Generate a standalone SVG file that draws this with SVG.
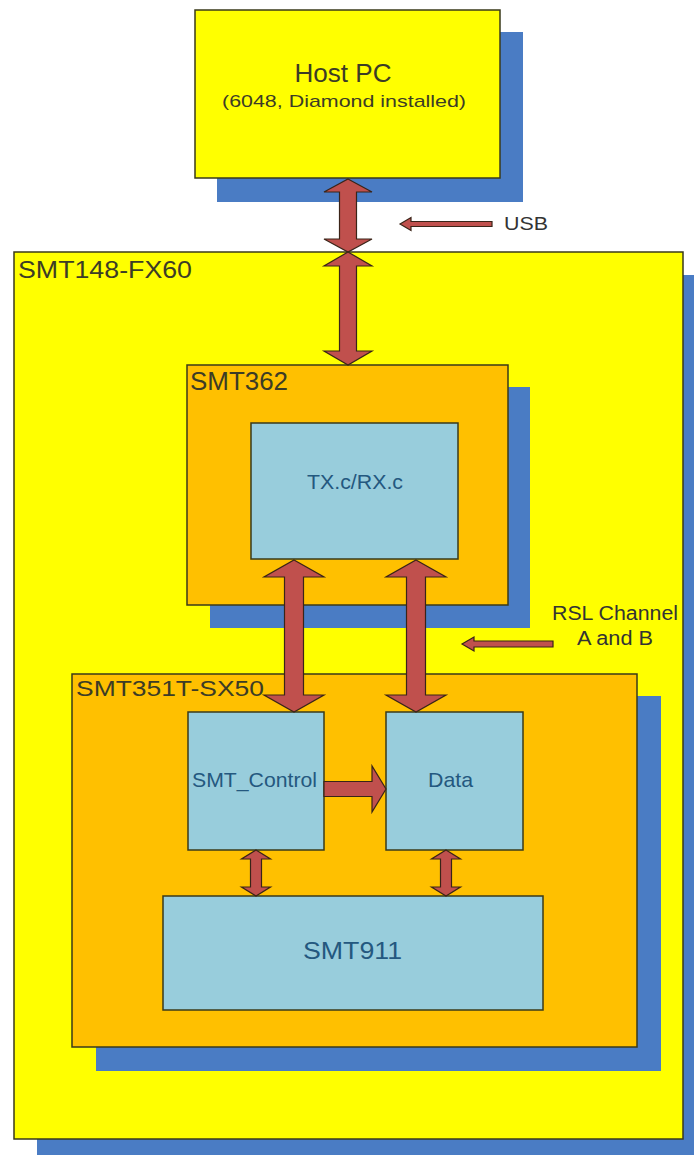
<svg xmlns="http://www.w3.org/2000/svg" width="694" height="1155" viewBox="0 0 694 1155">
<style>
.shadow{fill:#4A7CC4;}
.yel{fill:#FFFF00;stroke:#3A3A1A;stroke-width:1.5;}
.org{fill:#FFC000;stroke:#3A3A1A;stroke-width:1.5;}
.blu{fill:#98CDDC;stroke:#3A3A1A;stroke-width:1.5;}
.arr{fill:#C0504D;stroke:#3A2418;stroke-width:1.2;stroke-linejoin:miter;}
.title{font-family:"Liberation Sans",Arial,sans-serif;fill:#3C3C26;}
.inner{font-family:"Liberation Sans",Arial,sans-serif;fill:#24587F;}
.note{font-family:"Liberation Sans",Arial,sans-serif;fill:#333333;}
</style>
<rect width="694" height="1155" fill="#FFFFFF"/>
<g id="smt148">
<rect class="shadow" x="37" y="275" width="670" height="890"/>
<rect class="yel" x="14" y="252" width="669" height="887"/>
<text class="title" x="18" y="278" font-size="23" textLength="174" lengthAdjust="spacingAndGlyphs">SMT148-FX60</text>
</g>
<g id="hostpc">
<rect class="shadow" x="217" y="32" width="306" height="170"/>
<rect class="yel" x="195" y="10" width="305" height="168"/>
<text class="title" x="343" y="82" font-size="25" text-anchor="middle" textLength="97" lengthAdjust="spacingAndGlyphs">Host PC</text>
<text class="title" x="344" y="107" font-size="17" text-anchor="middle" textLength="244" lengthAdjust="spacingAndGlyphs">(6048, Diamond installed)</text>
</g>
<g id="smt362">
<rect class="shadow" x="210" y="387" width="320" height="241"/>
<rect class="org" x="187" y="365" width="321" height="240"/>
<text class="title" x="190" y="390" font-size="25" textLength="98" lengthAdjust="spacingAndGlyphs">SMT362</text>
</g>
<g id="txrx">
<rect class="blu" x="251" y="423" width="207" height="136"/>
<text class="inner" x="307" y="489" font-size="21" textLength="96" lengthAdjust="spacingAndGlyphs">TX.c/RX.c</text>
</g>
<g id="smt351">
<rect class="shadow" x="96" y="696" width="565" height="375"/>
<rect class="org" x="72" y="674" width="565" height="373"/>
<text class="title" x="76" y="696" font-size="22" textLength="188" lengthAdjust="spacingAndGlyphs">SMT351T-SX50</text>
</g>
<g id="smtcontrol">
<rect class="blu" x="188" y="712" width="136" height="138"/>
<text class="inner" x="192" y="787" font-size="21" textLength="125" lengthAdjust="spacingAndGlyphs">SMT_Control</text>
</g>
<g id="data">
<rect class="blu" x="386" y="712" width="137" height="138"/>
<text class="inner" x="428" y="787" font-size="21" textLength="45" lengthAdjust="spacingAndGlyphs">Data</text>
</g>
<g id="smt911">
<rect class="blu" x="163" y="896" width="380" height="114"/>
<text class="inner" x="303" y="959" font-size="24" textLength="99" lengthAdjust="spacingAndGlyphs">SMT911</text>
</g>
<g id="labels">
<text class="note" x="504" y="230" font-size="19" textLength="44" lengthAdjust="spacingAndGlyphs">USB</text>
<text class="note" x="552" y="620" font-size="20" textLength="126" lengthAdjust="spacingAndGlyphs">RSL Channel</text>
<text class="note" x="577" y="645" font-size="20" textLength="76" lengthAdjust="spacingAndGlyphs">A and B</text>
</g>
<g id="connectors">
<path class="arr" d="M348,179 L372,192 L356.5,192 L356.5,239 L372,239 L348,252 L324,239 L339.5,239 L339.5,192 L324,192 Z"/>
<path class="arr" d="M348,252 L372,266 L356.5,266 L356.5,351 L372,351 L348,365 L324,351 L339.5,351 L339.5,266 L324,266 Z"/>
<path class="arr" d="M294,560 L324,577 L303.5,577 L303.5,695 L324,695 L294,712 L264,695 L284.5,695 L284.5,577 L264,577 Z"/>
<path class="arr" d="M416,560 L446,577 L425.5,577 L425.5,695 L446,695 L416,712 L386,695 L406.5,695 L406.5,577 L386,577 Z"/>
<path class="arr" d="M324,781.5 L372,781.5 L372,766 L386,789 L372,812 L372,796.5 L324,796.5 Z"/>
<path class="arr" d="M256,850 L270.5,859 L261.5,859 L261.5,887 L270.5,887 L256,896 L241.5,887 L250.5,887 L250.5,859 L241.5,859 Z"/>
<path class="arr" d="M446,850 L460.5,859 L451.5,859 L451.5,887 L460.5,887 L446,896 L431.5,887 L440.5,887 L440.5,859 L431.5,859 Z"/>
<path class="arr" d="M400,224 L411,217.5 L411,221.5 L492,221.5 L492,226.5 L411,226.5 L411,230.5 Z"/>
<path class="arr" d="M462,644 L474,637 L474,641 L553,641 L553,647 L474,647 L474,651 Z"/>
</g>
</svg>
